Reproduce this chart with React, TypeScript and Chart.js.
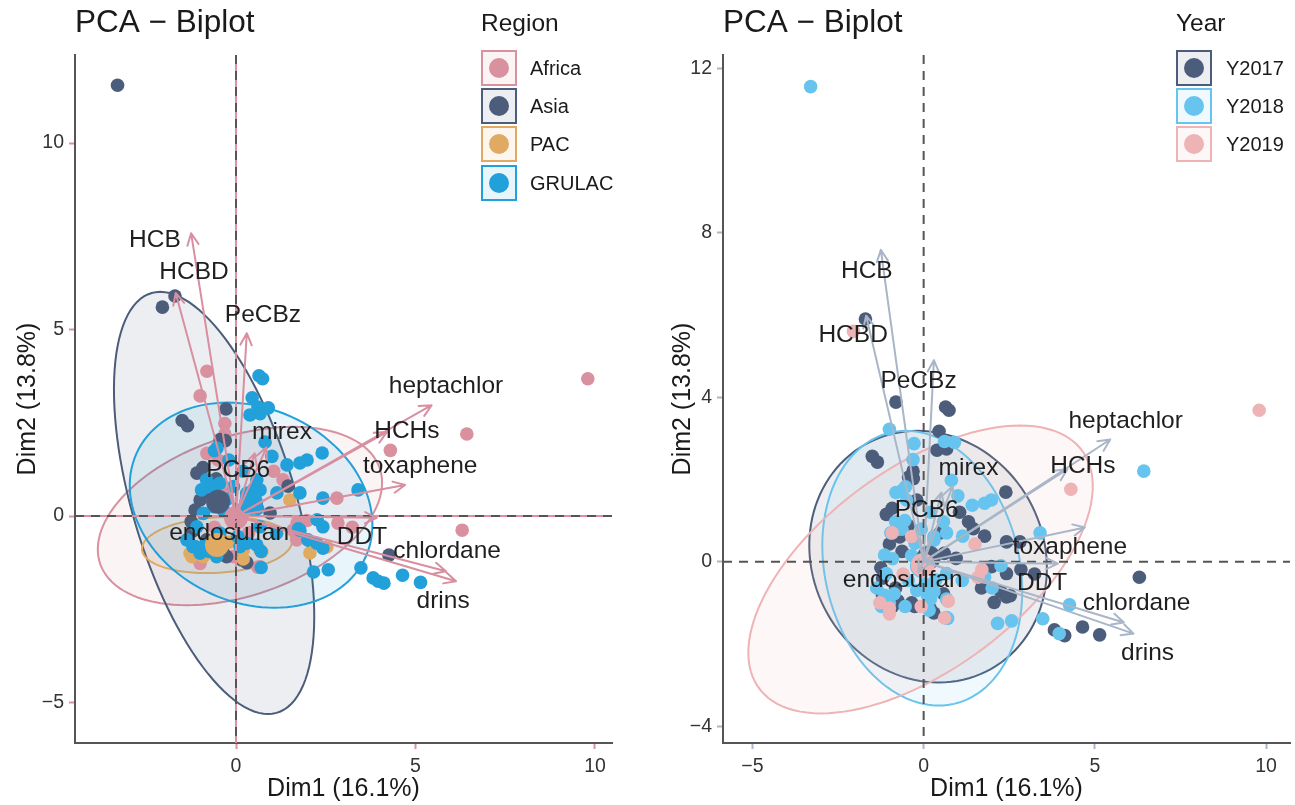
import React, { useEffect, useRef } from "react";
import { Chart, registerables } from "chart.js";
Chart.register(...registerables);

const FONT = "'Liberation Sans', Arial, Helvetica, sans-serif";

// ---- variable loadings (arrow tips, Dim1/Dim2) ----
const varNames = ["HCB", "HCBD", "PeCBz", "heptachlor", "HCHs", "mirex", "toxaphene", "PCB6", "endosulfan", "DDT", "chlordane", "drins"];
const varX = [-1.25, -1.68, 0.3, 5.45, 4.2, 0.85, 4.71, 0.52, -0.15, 3.92, 5.85, 6.13];
const varY = [7.58, 5.98, 4.9, 2.97, 2.25, 1.84, 0.83, 1.68, -0.25, -0.05, -1.48, -1.75];
// label anchor positions (repelled) per plot
const regionLabelX = [-2.26, -1.17, 0.75, 5.85, 4.76, 1.28, 5.13, 0.06, -0.19, 3.51, 5.88, 5.77];
const regionLabelY = [7.4, 6.54, 5.39, 3.49, 2.28, 2.25, 1.34, 1.23, -0.46, -0.56, -0.94, -2.28];
const yearLabelX = [-1.66, -2.06, -0.15, 5.9, 4.65, 1.31, 4.27, 0.09, -0.61, 3.46, 6.22, 6.54];
const yearLabelY = [7.06, 5.51, 4.39, 3.42, 2.33, 2.26, 0.36, 1.26, -0.46, -0.53, -1.02, -2.23];

// ---- observations per region: [Dim1, Dim2, yearIndex(0=2017,1=2018,2=2019)] ----
const africaObs = [
  [9.8, 3.68, 2], [6.43, 2.2, 1], [4.3, 1.76, 2], [6.3, -0.38, 0], [-0.81, 3.88, 0], [-1.0, 3.22, 1],
  [-0.31, 2.48, 1], [-0.31, 2.2, 0], [-0.81, 1.68, 1], [1.31, 0.97, 0], [2.81, 0.48, 0], [2.84, -0.19, 0],
  [3.24, -0.3, 0], [1.7, -0.19, 2], [1.98, -0.12, 0], [1.59, -0.38, 2], [1.69, -0.64, 0], [-1.0, -1.13, 2],
  [0.61, -1.37, 2], [-0.92, 0.7, 2], [-0.35, 0.61, 2], [-1.0, -1.27, 2], [0.67, -1.36, 1], [-0.07, -1.09, 2],
  [-0.5, 1.5, 1], [1.05, 1.2, 0], [-0.6, -0.3, 2], [0.35, -0.45, 1],
];
const asiaObs = [
  [-3.3, 11.55, 1], [-1.7, 5.9, 0], [-2.05, 5.6, 2], [-0.28, 2.87, 1], [-1.5, 2.56, 0], [-1.35, 2.42, 0],
  [-0.44, 2.05, 0], [-0.3, 2.02, 0], [-1.09, 1.15, 0], [-0.92, 1.3, 0], [-1.0, 0.43, 0], [-1.14, 0.16, 1],
  [-0.82, -0.64, 0], [-0.26, -1.09, 0], [0.16, -1.18, 1], [-0.35, -1.0, 0], [0.3, -1.25, 0], [4.26, -1.05, 1],
  [0.95, 0.08, 0], [-0.7, 0.6, 0], [-1.2, -0.4, 0], [-0.55, 1.0, 1], [1.45, 0.8, 0], [-1.25, -0.15, 0],
];
const pacObs = [
  [1.5, 0.43, 2], [2.06, -0.99, 0], [2.53, -0.83, 0], [-1.23, -1.09, 1], [0.2, -0.91, 1], [0.72, -0.96, 2],
  [-1.28, -1.0, 2], [-0.91, -1.09, 0], [0.2, -1.15, 0], [0.67, -0.91, 1], [-0.2, -0.7, 1],
];
const grulacObs = [
  [3.82, -1.66, 0], [3.96, -1.75, 1], [4.12, -1.8, 0], [4.64, -1.59, 0], [5.14, -1.78, 0], [3.48, -1.39, 1],
  [2.16, -1.5, 1], [2.57, -1.44, 1], [0.64, 3.76, 0], [0.74, 3.68, 0], [0.45, 3.17, 0], [0.9, 2.9, 1],
  [0.61, 2.92, 1], [0.39, 2.71, 0], [0.67, 2.74, 0], [0.81, 1.98, 1], [-0.53, 1.82, 1], [-0.6, 1.75, 1],
  [1.42, 1.37, 1], [1.78, 1.42, 1], [1.98, 1.5, 1], [2.4, 1.69, 0], [0.67, 0.7, 1], [1.14, 0.62, 1],
  [1.78, 0.62, 0], [2.42, 0.48, 0], [3.4, 0.7, 1], [2.26, -0.1, 1], [2.42, -0.29, 0], [1.78, -0.38, 1],
  [2.0, -0.64, 1], [2.25, -0.73, 0], [2.42, -0.86, 0], [-0.96, 0.7, 1], [-0.78, 0.78, 1], [0.3, 0.61, 1],
  [0.48, 0.7, 0], [-1.14, -0.82, 1], [-0.86, -0.78, 1], [-1.0, -1.0, 1], [-0.63, 0.79, 1], [-0.45, 0.88, 0],
  [-0.82, 0.97, 1], [-0.91, 0.07, 1], [-0.63, 0.25, 0], [-0.07, 0.79, 1], [0.3, 0.52, 1], [0.58, 0.97, 1],
  [-1.37, -0.64, 1], [-1.2, -0.82, 0], [-0.54, -1.09, 1], [0.11, -0.82, 1], [0.3, -0.73, 1], [-1.09, -0.29, 1],
  [-0.45, -0.46, 1], [0.67, -0.29, 1], [1.13, -0.46, 1], [0.7, -1.38, 1], [1.74, -0.34, 1], [0.7, -0.95, 1],
  [0.58, -0.78, 0], [0.2, 1.2, 1], [-0.2, 1.5, 0], [1.0, 1.6, 1], [0.2, 0.2, 1], [0.6, 0.2, 0], [-0.35, 0.15, 1],
  [-0.75, -0.95, 0], [0.05, -0.55, 1], [-0.25, 0.45, 1],
];

const regionNames = ["Africa", "Asia", "PAC", "GRULAC"];
const regionColors = ["#D9909F", "#4B5D7A", "#E1AA62", "#22A0D9"];
const regionCentroidX = [0.0, -0.5, -0.53, 0.42];
const regionCentroidY = [-0.05, 0.38, -0.78, 0.35];
// ellipse: centre, half-width, half-height, x-offset of topmost point
const regionEllCx = [0.11, -0.61, -0.53, 0.42];
const regionEllCy = [0.0, 0.35, -0.78, 0.29];
const regionEllW = [3.96, 2.79, 2.09, 3.38];
const regionEllH = [2.39, 5.66, 0.75, 2.75];
const regionEllTx = [1.48, -1.5, 0.28, -0.65];

const yearNames = ["Y2017", "Y2018", "Y2019"];
const yearColors = ["#4B5D7A", "#67C4EE", "#EEB3B5"];
const yearCentroidX = [0.15, -0.05, -0.02];
const yearCentroidY = [0.1, -0.1, -0.08];
const yearEllCx = [0.13, -0.04, -0.09];
const yearEllCy = [0.12, -0.16, -0.19];
const yearEllW = [3.47, 2.92, 5.03];
const yearEllH = [3.06, 3.34, 3.5];
const yearEllTx = [-0.31, -0.48, 2.91];

const leftXTicks = [0, 5, 10];
const leftYTicks = [-5, 0, 5, 10];
const rightXTicks = [-5, 0, 5, 10];
const rightYTicks = [-4, 0, 4, 8, 12];

function hexToRgba(hex: string, a: number) {
  const n = parseInt(hex.slice(1), 16);
  return `rgba(${(n >> 16) & 255},${(n >> 8) & 255},${n & 255},${a})`;
}

function ellipsePoints(cx: number, cy: number, w: number, h: number, tx: number) {
  const wp = Math.sqrt(Math.max(w * w - tx * tx, 0));
  const pts: { x: number; y: number }[] = [];
  for (let i = 0; i <= 120; i++) {
    const t = (i / 120) * Math.PI * 2;
    pts.push({ x: cx + tx * Math.sin(t) + wp * Math.cos(t), y: cy + h * Math.sin(t) });
  }
  return pts;
}

function scaleOpts(axis: "x" | "y", min: number, max: number, ticks: number[], tickColor: string, fit: number, title: string, titlePad: any) {
  return {
    type: "linear",
    position: axis === "x" ? "bottom" : "left",
    min,
    max,
    afterBuildTicks: (s: any) => {
      s.ticks = ticks.map((v) => ({ value: v }));
    },
    afterFit: (s: any) => {
      if (axis === "x") s.height = fit;
      else s.width = fit;
    },
    grid: { display: true, drawOnChartArea: false, drawTicks: true, tickLength: 6, tickWidth: 2, tickColor, color: "rgba(0,0,0,0)" },
    border: { display: true, color: "#555555", width: 2 },
    ticks: {
      font: { family: FONT, size: 19.5 },
      color: "#333333",
      padding: axis === "x" ? 6 : 5,
      autoSkip: false,
      maxRotation: 0,
      callback: (v: any) => String(v).replace("-", "\u2212"),
    },
    title: { display: true, text: title, font: { family: FONT, size: 25 }, color: "#1A1A1A", padding: titlePad },
  };
}

type OverlayCfg = {
  ellipses: { pts: { x: number; y: number }[]; color: string }[];
  arrowColor: string;
  labelX: number[];
  labelY: number[];
  refUnder: string | null;
  title: string;
  titleX: number;
  legendTitle: string;
  legendNames: string[];
  legendColors: string[];
  legendX: number;
  legendTextX: number;
  legendYs: number[];
};

function makeOverlay(cfg: OverlayCfg) {
  return {
    id: "overlay",
    beforeDatasetsDraw(chart: any) {
      const { ctx, scales } = chart;
      const xs = scales.x, ys = scales.y;
      ctx.save();
      for (const e of cfg.ellipses) {
        ctx.beginPath();
        e.pts.forEach((p, i) => {
          const px = xs.getPixelForValue(p.x), py = ys.getPixelForValue(p.y);
          if (i === 0) ctx.moveTo(px, py);
          else ctx.lineTo(px, py);
        });
        ctx.closePath();
        ctx.fillStyle = hexToRgba(e.color, 0.1);
        ctx.fill();
        ctx.strokeStyle = e.color;
        ctx.lineWidth = 2;
        ctx.stroke();
      }
      ctx.restore();
    },
    afterDatasetsDraw(chart: any) {
      const { ctx, scales, chartArea } = chart;
      const xs = scales.x, ys = scales.y;
      const x0 = xs.getPixelForValue(0), y0 = ys.getPixelForValue(0);
      ctx.save();
      const refLines = () => {
        ctx.beginPath();
        ctx.moveTo(x0, chartArea.top);
        ctx.lineTo(x0, chartArea.bottom);
        ctx.moveTo(chartArea.left, y0);
        ctx.lineTo(chartArea.right, y0);
        ctx.stroke();
      };
      ctx.lineWidth = 2;
      if (cfg.refUnder) {
        ctx.strokeStyle = cfg.refUnder;
        ctx.setLineDash([]);
        refLines();
      }
      ctx.strokeStyle = "#555555";
      ctx.setLineDash([9, 7]);
      refLines();
      ctx.setLineDash([]);
      // arrows
      ctx.strokeStyle = cfg.arrowColor;
      ctx.lineWidth = 2;
      ctx.lineCap = "round";
      ctx.lineJoin = "round";
      for (let i = 0; i < varNames.length; i++) {
        const tx = xs.getPixelForValue(varX[i]), ty = ys.getPixelForValue(varY[i]);
        const ang = Math.atan2(ty - y0, tx - x0);
        const hl = 13, ha = 0.45;
        ctx.beginPath();
        ctx.moveTo(x0, y0);
        ctx.lineTo(tx, ty);
        ctx.moveTo(tx - hl * Math.cos(ang - ha), ty - hl * Math.sin(ang - ha));
        ctx.lineTo(tx, ty);
        ctx.lineTo(tx - hl * Math.cos(ang + ha), ty - hl * Math.sin(ang + ha));
        ctx.stroke();
      }
      // labels
      ctx.fillStyle = "#1F1F1F";
      ctx.font = `24.5px ${FONT}`;
      ctx.textAlign = "center";
      ctx.textBaseline = "middle";
      for (let i = 0; i < varNames.length; i++) {
        ctx.fillText(varNames[i], xs.getPixelForValue(cfg.labelX[i]), ys.getPixelForValue(cfg.labelY[i]));
      }
      ctx.restore();
    },
    afterDraw(chart: any) {
      const { ctx } = chart;
      ctx.save();
      ctx.fillStyle = "#1A1A1A";
      ctx.textAlign = "left";
      ctx.textBaseline = "middle";
      ctx.font = `31.5px ${FONT}`;
      ctx.fillText(cfg.title, cfg.titleX, 23);
      ctx.font = `24.5px ${FONT}`;
      ctx.fillText(cfg.legendTitle, cfg.legendX, 24);
      ctx.font = `20px ${FONT}`;
      cfg.legendNames.forEach((name, i) => {
        const cy = cfg.legendYs[i];
        const c = cfg.legendColors[i];
        ctx.fillStyle = "#FFFFFF";
        ctx.fillRect(cfg.legendX, cy - 18, 36, 36);
        ctx.fillStyle = hexToRgba(c, 0.1);
        ctx.fillRect(cfg.legendX, cy - 18, 36, 36);
        ctx.strokeStyle = c;
        ctx.lineWidth = 2;
        ctx.strokeRect(cfg.legendX + 1, cy - 17, 34, 34);
        ctx.beginPath();
        ctx.arc(cfg.legendX + 18, cy, 10, 0, Math.PI * 2);
        ctx.fillStyle = c;
        ctx.fill();
        ctx.fillStyle = "#1A1A1A";
        ctx.fillText(name, cfg.legendTextX, cy + 1);
      });
      ctx.restore();
    },
  };
}

function toPts(obs: number[][]) {
  return obs.map((o) => ({ x: o[0], y: o[1] }));
}

function buildLeft(canvas: HTMLCanvasElement) {
  const groups = [africaObs, asiaObs, pacObs, grulacObs];
  const centroidSets = regionNames.map((n, i) => ({
    label: n + " mean",
    data: [{ x: regionCentroidX[i], y: regionCentroidY[i] }],
    backgroundColor: regionColors[i],
    borderWidth: 0,
    pointRadius: 12,
  }));
  const pointSets = regionNames.map((n, i) => ({
    label: n,
    data: toPts(groups[i]),
    backgroundColor: regionColors[i],
    borderWidth: 0,
    pointRadius: 6.8,
  }));
  const datasets = [...centroidSets.slice().reverse(), ...pointSets.slice().reverse()];
  return new Chart(canvas, {
    type: "scatter",
    data: { datasets },
    options: {
      animation: false,
      responsive: false,
      devicePixelRatio: 1,
      layout: { autoPadding: false, padding: { left: 0, top: 55, right: 35, bottom: 0 } },
      plugins: { legend: { display: false }, tooltip: { enabled: false } },
      scales: {
        x: scaleOpts("x", -4.485, 10.474, leftXTicks, "#D9909F", 62, "Dim1 (16.1%)", { top: 0, bottom: 1 }),
        y: scaleOpts("y", -6.086, 12.36, leftYTicks, "#D9909F", 75, "Dim2 (13.8%)", { top: 13, bottom: 0 }),
      } as any,
    },
    plugins: [
      makeOverlay({
        ellipses: regionNames.map((_, i) => ({
          pts: ellipsePoints(regionEllCx[i], regionEllCy[i], regionEllW[i], regionEllH[i], regionEllTx[i]),
          color: regionColors[i],
        })),
        arrowColor: "#D88FA0",
        labelX: regionLabelX,
        labelY: regionLabelY,
        refUnder: "#D9909F",
        title: "PCA \u2212 Biplot",
        titleX: 75,
        legendTitle: "Region",
        legendNames: regionNames,
        legendColors: regionColors,
        legendX: 481,
        legendTextX: 530,
        legendYs: [68, 106, 144, 183],
      }),
    ],
  } as any);
}

function buildRight(canvas: HTMLCanvasElement) {
  const all = [...africaObs, ...asiaObs, ...pacObs, ...grulacObs];
  const centroidSets = yearNames.map((n, i) => ({
    label: n + " mean",
    data: [{ x: yearCentroidX[i], y: yearCentroidY[i] }],
    backgroundColor: yearColors[i],
    borderWidth: 0,
    pointRadius: 12,
  }));
  const pointSets = yearNames.map((n, i) => ({
    label: n,
    data: toPts(all.filter((o) => o[2] === i)),
    backgroundColor: yearColors[i],
    borderWidth: 0,
    pointRadius: 6.8,
  }));
  const datasets = [...centroidSets.slice().reverse(), ...pointSets.slice().reverse()];
  return new Chart(canvas, {
    type: "scatter",
    data: { datasets },
    options: {
      animation: false,
      responsive: false,
      devicePixelRatio: 1,
      layout: { autoPadding: false, padding: { left: 0, top: 55, right: 5, bottom: 0 } },
      plugins: { legend: { display: false }, tooltip: { enabled: false } },
      scales: {
        x: scaleOpts("x", -5.86, 10.7, rightXTicks, "#A9B6C7", 62, "Dim1 (16.1%)", { top: 0, bottom: 1 }),
        y: scaleOpts("y", -4.41, 12.32, rightYTicks, "#A9B6C7", 76, "Dim2 (13.8%)", { top: 21, bottom: 0 }),
      } as any,
    },
    plugins: [
      makeOverlay({
        ellipses: yearNames.map((_, i) => ({
          pts: ellipsePoints(yearEllCx[i], yearEllCy[i], yearEllW[i], yearEllH[i], yearEllTx[i]),
          color: yearColors[i],
        })),
        arrowColor: "#A9B6C7",
        labelX: yearLabelX,
        labelY: yearLabelY,
        refUnder: null,
        title: "PCA \u2212 Biplot",
        titleX: 76,
        legendTitle: "Year",
        legendNames: yearNames,
        legendColors: yearColors,
        legendX: 529,
        legendTextX: 579,
        legendYs: [68, 106, 144],
      }),
    ],
  } as any);
}

export default function App() {
  const leftRef = useRef<HTMLCanvasElement>(null);
  const rightRef = useRef<HTMLCanvasElement>(null);
  useEffect(() => {
    const a = leftRef.current ? buildLeft(leftRef.current) : null;
    const b = rightRef.current ? buildRight(rightRef.current) : null;
    return () => {
      a?.destroy();
      b?.destroy();
    };
  }, []);
  return (
    <div style={{ position: "fixed", left: 0, top: 0, width: 1295, height: 805, background: "#FFFFFF" }}>
      <canvas ref={leftRef} width={647} height={805} style={{ position: "absolute", left: 0, top: 0, width: 647, height: 805 }} />
      <canvas ref={rightRef} width={648} height={805} style={{ position: "absolute", left: 647, top: 0, width: 648, height: 805 }} />
    </div>
  );
}
